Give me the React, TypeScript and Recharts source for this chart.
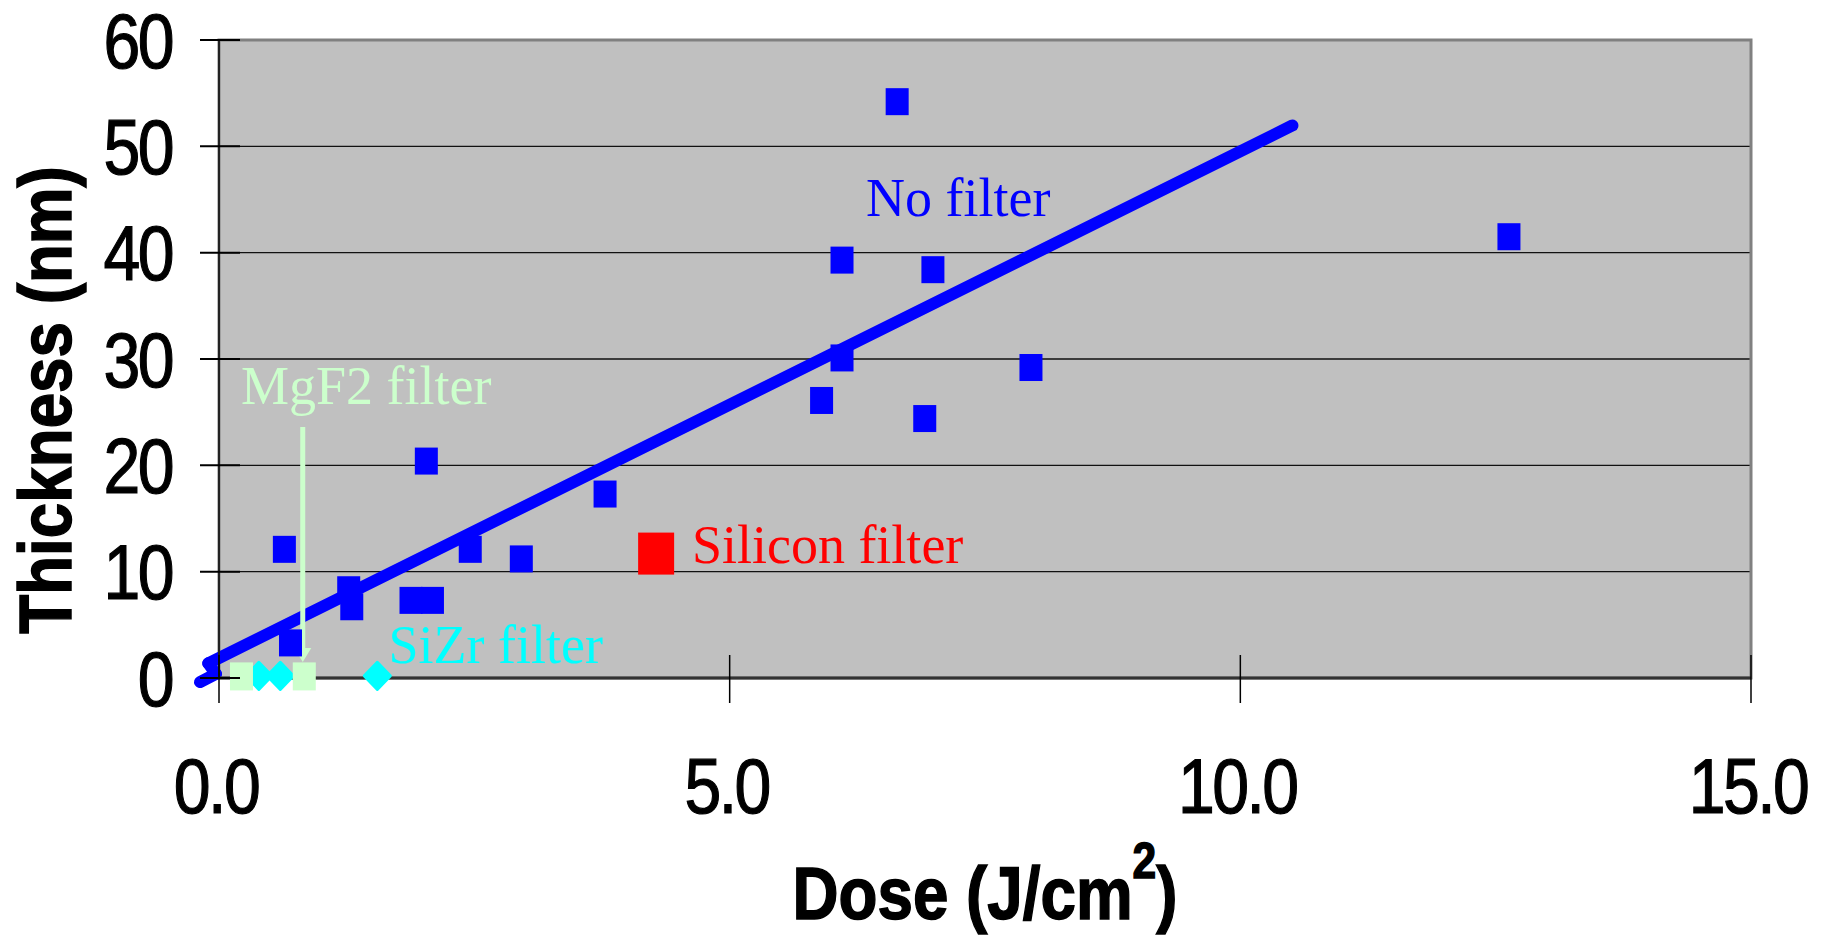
import React from 'react'
import {
  ScatterChart,
  Scatter,
  XAxis,
  YAxis,
  CartesianGrid,
  ReferenceLine,
  ReferenceDot,
  ReferenceArea,
} from 'recharts'

// dose (J/cm2) -> deposited thickness (nm)
const NO_FILTER = [
  { x: 6.64, y: 54.2 },
  { x: 12.63, y: 41.5 },
  { x: 6.1, y: 39.3 },
  { x: 6.99, y: 38.4 },
  { x: 6.1, y: 30.1 },
  { x: 7.95, y: 29.2 },
  { x: 5.9, y: 26.1 },
  { x: 6.91, y: 24.4 },
  { x: 2.03, y: 20.4 },
  { x: 3.78, y: 17.3 },
  { x: 0.64, y: 12.1 },
  { x: 2.46, y: 12.1 },
  { x: 2.96, y: 11.2 },
  { x: 1.27, y: 8.3 },
  { x: 1.3, y: 6.7 },
  { x: 1.88, y: 7.3 },
  { x: 2.09, y: 7.3 },
  { x: 0.7, y: 3.3 },
]
const SILICON = [{ x: 4.28, y: 11.7 }]
const SIZR = [
  { x: 0.39, y: 0.2 },
  { x: 0.6, y: 0.2 },
  { x: 1.55, y: 0.2 },
]
const MGF2 = [
  { x: 0.22, y: 0.15 },
  { x: 0.835, y: 0.15 },
]

// linear fit through the unfiltered points (drawn as in the original, with its odd start)
const TREND = [
  { x: -0.186, y: -0.38 },
  { x: -0.03, y: 0.38 },
  { x: -0.105, y: 1.38 },
  { x: 10.51, y: 51.96 },
]
const ARROW = [
  { x: 0.82, y: 23.6 },
  { x: 0.82, y: 1.5 },
]

const X_TICKS = [0, 5, 10, 15]
const Y_TICKS = [0, 10, 20, 30, 40, 50, 60]

const NOTES = [
  { text: 'No filter', x: 6.335, y: 43.45, color: '#0000ff' },
  { text: 'Silicon filter', x: 4.63, y: 10.77, color: '#ff0000' },
  { text: 'MgF2 filter', x: 0.215, y: 25.77, color: '#ccffcc' },
  { text: 'SiZr filter', x: 1.66, y: 1.38, color: '#00ffff' },
]

const SANS = 'Liberation Sans, Arial, sans-serif'
const SERIF = 'Liberation Serif, Times New Roman, serif'

const rectShape = (w: number, h: number, color: string) => (p: any) => (
  <rect x={p.cx - w / 2} y={p.cy - h / 2} width={w} height={h} fill={color} />
)

const diamondShape = (w: number, h: number, color: string) => (p: any) => (
  <polygon
    points={`${p.cx},${p.cy - h / 2} ${p.cx + w / 2},${p.cy} ${p.cx},${p.cy + h / 2} ${p.cx - w / 2},${p.cy}`}
    fill={color}
    stroke={color}
    strokeWidth={3}
    strokeLinejoin="round"
  />
)

function XTick(p: any) {
  const { x, y, payload } = p
  return (
    <g>
      <line x1={x} y1={y - 23} x2={x} y2={y + 25} stroke="#000" strokeWidth={1.5} />
      <text
        transform={`translate(${x - 3}, ${y + 135}) scale(0.86,1)`}
        textAnchor="middle"
        fontFamily={SANS}
        fontSize={77}
        letterSpacing={-3}
        fill="#000"
        stroke="#000"
        strokeWidth={1.2}
      >
        {Number(payload.value).toFixed(1)}
      </text>
    </g>
  )
}

function YTick(p: any) {
  const { x, y, payload } = p
  return (
    <g>
      <line x1={x - 19} y1={y} x2={x + 21} y2={y} stroke="#000" strokeWidth={2} />
      <text
        transform={`translate(${x - 47}, ${y + 27.5}) scale(0.86,1)`}
        textAnchor="end"
        fontFamily={SANS}
        fontSize={77}
        letterSpacing={-3}
        fill="#000"
        stroke="#000"
        strokeWidth={1.2}
      >
        {payload.value}
      </text>
    </g>
  )
}

const renderDoseTitle = (p: any) => {
  const vb = p.viewBox || { x: 219, y: 678, width: 1532, height: 257 }
  return (
    <text
      transform={`translate(${vb.x + vb.width / 2}, ${vb.y + 241}) scale(0.85,1)`}
      textAnchor="middle"
      fontFamily={SANS}
      fontWeight="bold"
      fontSize={75}
      fill="#000"
      stroke="#000"
      strokeWidth={1.5}
    >
      Dose (J/cm
      <tspan fontSize={50} dy={-41}>2</tspan>
      <tspan dy={41}>)</tspan>
    </text>
  )
}

const renderThicknessTitle = (p: any) => {
  const vb = p.viewBox || { x: 0, y: 40, width: 219, height: 638 }
  return (
    <text
      transform={`translate(${vb.x + 71}, ${vb.y + 360}) rotate(-90) scale(0.85,1)`}
      textAnchor="middle"
      fontFamily={SANS}
      fontWeight="bold"
      fontSize={75}
      fill="#000"
      stroke="#000"
      strokeWidth={1.5}
    >
      Thickness (nm)
    </text>
  )
}

const renderArrow = (p: any) => {
  const { x1, y1, x2, y2 } = p
  return (
    <g>
      <line x1={x1} y1={y1} x2={x2} y2={y2 - 12} stroke="#ccffcc" strokeWidth={5} />
      <polygon points={`${x2 - 8.5},${y2 - 14} ${x2 + 8.5},${y2 - 14} ${x2},${y2}`} fill="#ccffcc" />
    </g>
  )
}

export default function App() {
  return (
    <div style={{ position: 'absolute', left: 0, top: 0, background: '#fff' }}>
      <ScatterChart width={1824} height={935} margin={{ top: 40, right: 73, bottom: 0, left: 0 }}>
        <CartesianGrid vertical={false} stroke="#111" strokeWidth={1.3} fill="#c0c0c0" />
        <ReferenceArea x1={0} x2={15} y1={0} y2={60} fill="none" stroke="#808080" strokeWidth={3} />
        <XAxis
          type="number"
          dataKey="x"
          domain={[0, 15]}
          ticks={X_TICKS}
          interval={0}
          height={257}
          tickSize={0}
          tickMargin={0}
          tickLine={false}
          axisLine={{ stroke: '#333', strokeWidth: 3 }}
          tick={(p: any) => <XTick {...p} />}
          label={{ content: renderDoseTitle }}
        />
        <YAxis
          type="number"
          dataKey="y"
          domain={[0, 60]}
          ticks={Y_TICKS}
          interval={0}
          width={219}
          tickSize={0}
          tickMargin={0}
          tickLine={false}
          axisLine={{ stroke: '#222', strokeWidth: 2 }}
          tick={(p: any) => <YTick {...p} />}
          label={{ content: renderThicknessTitle }}
        />
        {TREND.slice(1).map((pt, i) => (
          <ReferenceLine
            key={`trend-${i}`}
            segment={[TREND[i], pt]}
            ifOverflow="visible"
            stroke="#0000ff"
            strokeWidth={12}
            strokeLinecap="round"
          />
        ))}
        <Scatter name="No filter" data={NO_FILTER} shape={rectShape(23, 27, '#0000ff')} isAnimationActive={false} />
        <Scatter name="Silicon filter" data={SILICON} shape={rectShape(36, 42, '#ff0000')} isAnimationActive={false} />
        <Scatter name="SiZr filter" data={SIZR} shape={diamondShape(26, 27, '#00ffff')} isAnimationActive={false} />
        <Scatter name="MgF2 filter" data={MGF2} shape={rectShape(23, 28, '#ccffcc')} isAnimationActive={false} />
        <ReferenceLine segment={[ARROW[0], ARROW[1]]} ifOverflow="visible" shape={renderArrow} />
        {NOTES.map((n) => (
          <ReferenceDot
            key={n.text}
            x={n.x}
            y={n.y}
            r={0}
            ifOverflow="visible"
            shape={(p: any) => (
              <text x={p.cx} y={p.cy} fontFamily={SERIF} fontSize={54} fill={n.color}>
                {n.text}
              </text>
            )}
          />
        ))}
      </ScatterChart>
    </div>
  )
}
